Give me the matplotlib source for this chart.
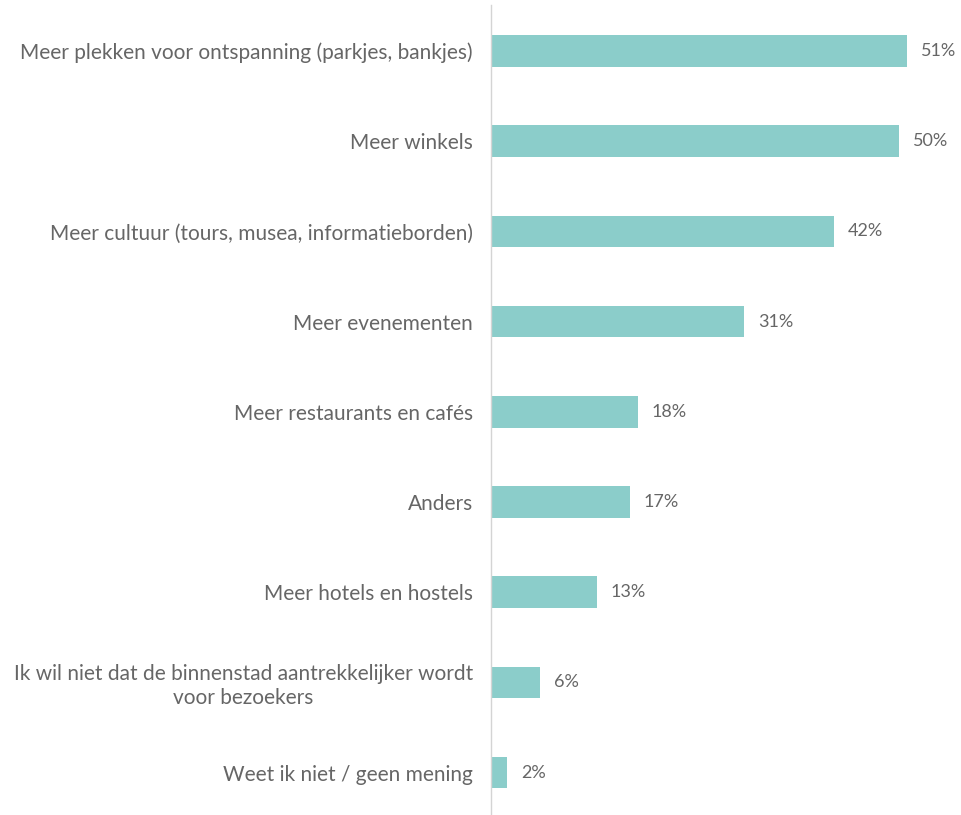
import numpy as np
import matplotlib.pyplot as plt

labels = [
    "Meer plekken voor ontspanning (parkjes, bankjes)",
    "Meer winkels",
    "Meer cultuur (tours, musea, informatieborden)",
    "Meer evenementen",
    "Meer restaurants en cafés",
    "Anders",
    "Meer hotels en hostels",
    "Ik wil niet dat de binnenstad aantrekkelijker wordt\nvoor bezoekers",
    "Weet ik niet / geen mening",
]
values = [51, 50, 42, 31, 18, 17, 13, 6, 2]

bar_color = "#8bcdca"
text_color = "#666666"

plt.rcParams['font.family'] = ['Lato', 'DejaVu Sans']

fig = plt.figure(figsize=(9.62, 8.15), dpi=100)
ax = fig.add_axes([491 / 962, 0, 1 - 491 / 962, 1 - 5 / 815])

y = np.arange(len(labels))
ax.barh(y, values, height=0.35, color=bar_color)
for i, v in enumerate(values):
    ax.text(v + 1.7, i, f"{v}%", va="center", ha="left",
            fontsize=13, color=text_color)

ax.set_yticks(y)
ax.set_yticklabels(labels, fontsize=15, color=text_color)
for lab in ax.get_yticklabels():
    lab.set_multialignment("center")
    lab.set_linespacing(1.25)
ax.tick_params(axis="y", length=0, pad=13)
ax.set_xticks([])
ax.set_xlim(0, 57.7)
ax.set_ylim(8.47, -0.51)

for s in ["top", "right", "bottom"]:
    ax.spines[s].set_visible(False)
ax.spines["left"].set_color("#d4d4d4")
ax.spines["left"].set_linewidth(1)

fig.savefig("out.png", dpi=100)
